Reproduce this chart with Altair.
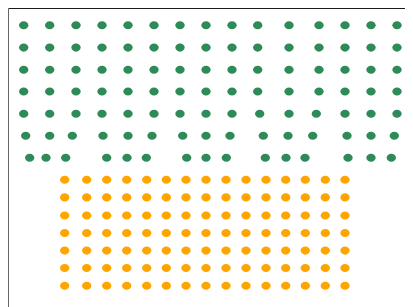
import altair as alt
import pandas as pd

# Green block: 7 rows x 15 columns (x positions per row, y per row)
green_rows_y = [17.3, 39.6, 61.7, 83.5, 105.7, 127.7, 149.7]
green_rows_x = [
    [15.7, 41.7, 68, 94, 120, 146, 172, 198, 224, 249.7, 281, 311, 337, 363, 389],
    [15.7, 41.7, 68, 94, 120, 146, 172, 198, 224, 249.7, 281, 311, 337, 363, 389],
    [15.7, 41.7, 68, 94, 120, 146, 172, 198, 224, 249.7, 281, 311, 337, 363, 389],
    [15.7, 41.7, 68, 94, 120, 146, 172, 198, 224, 249.7, 281, 311, 337, 363, 389],
    [15.7, 41.7, 68, 94, 120, 146, 172, 198, 224, 251.7, 281, 308.3, 337, 363, 389],
    [17.7, 41.7, 64.3, 95, 120, 144, 174.7, 198, 222, 255.3, 280, 304.7, 339, 363, 386.3],
    [21.7, 38, 57.7, 98.7, 119, 138.3, 178.7, 198, 218.3, 257.3, 278, 297, 340, 363, 383.3],
]

# Orange block: 7 rows x 15 columns on a regular grid
orange_rows_y = [171.7, 189.4, 207.5, 225.0, 242.6, 260.0, 277.8]
orange_cols_x = [56.7, 78.7, 98.7, 118.7, 138.7, 158.3, 178, 198, 218, 238, 258, 277.7, 297.3, 317.3, 337]

records = []
for yv, xs in zip(green_rows_y, green_rows_x):
    for xv in xs:
        records.append({"group": "green", "x": xv, "y": yv})
for yv in orange_rows_y:
    for xv in orange_cols_x:
        records.append({"group": "orange", "x": xv, "y": yv})
df = pd.DataFrame(records)

W, H = 405, 300
ellipse = "M-1,0A1,0.86,0,1,1,1,0A1,0.86,0,1,1,-1,0Z"

chart = (
    alt.Chart(df)
    .mark_point(filled=True, opacity=1, shape=ellipse, size=88)
    .encode(
        x=alt.X(
            "x:Q",
            scale=alt.Scale(domain=[0, W], nice=False, zero=False),
            axis=alt.Axis(orient="top", labels=False, ticks=False, title=None, grid=False,
                          domainColor="#1a1a1a", domainWidth=1),
        ),
        y=alt.Y(
            "y:Q",
            scale=alt.Scale(domain=[0, H], nice=False, zero=False, reverse=True),
            axis=alt.Axis(orient="left", labels=False, ticks=False, title=None, grid=False,
                          domainColor="#666666", domainWidth=1),
        ),
        color=alt.Color(
            "group:N",
            scale=alt.Scale(domain=["green", "orange"], range=["#2e8b57", "#ffa500"]),
            legend=None,
        ),
    )
    .properties(
        width=W,
        height=H,
        padding={"left": 0, "top": 0, "right": -8, "bottom": 0},
        autosize=alt.AutoSizeParams(type="none"),
    )
    .configure_view(stroke=None)
)

chart.save("out.html", embed_options={"renderer": "svg", "actions": False})
